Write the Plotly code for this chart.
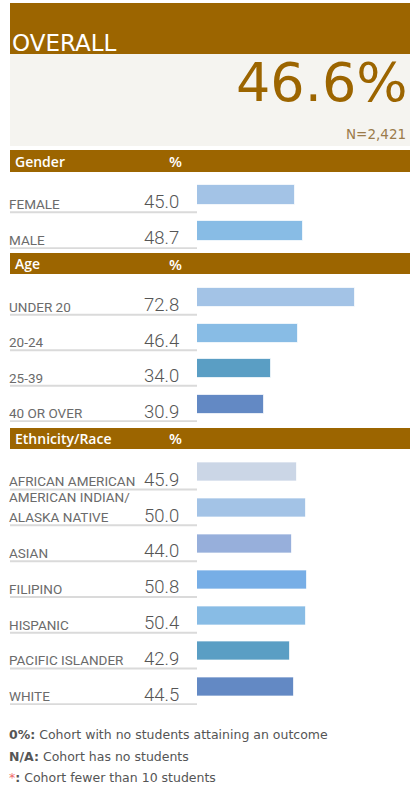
import plotly.graph_objects as go

# ---------------- data ----------------
overall_title = "OVERALL"
overall_value = "46.6%"
overall_n = "N=2,421"

gender_labels = ["FEMALE", "MALE"]
gender_values = [45.0, 48.7]
gender_colors = ["#a3c3e6", "#88bce5"]

age_labels = ["UNDER 20", "20-24", "25-39", "40 OR OVER"]
age_values = [72.8, 46.4, 34.0, 30.9]
age_colors = ["#a3c3e6", "#88bce5", "#5a9ec4", "#6389c4"]

eth_labels = ["AFRICAN AMERICAN", "AMERICAN INDIAN/<br>ALASKA NATIVE", "ASIAN",
              "FILIPINO", "HISPANIC", "PACIFIC ISLANDER", "WHITE"]
eth_values = [45.9, 50.0, 44.0, 50.8, 50.4, 42.9, 44.5]
eth_colors = ["#cbd6e6", "#a3c3e6", "#97afdb", "#77aee6", "#88bce5", "#5a9ec4", "#6389c4"]

section_titles = ["Gender", "Age", "Ethnicity/Race"]
footer_keys = ["0%:", "N/A:", "*:"]
footer_texts = ["Cohort with no students attaining an outcome",
                "Cohort has no students",
                "Cohort fewer than 10 students"]

# ---------------- layout helpers ----------------
W, H = 415, 787
BROWN = "#9c6500"
LABEL_FONT = "Roboto, Liberation Sans, sans-serif"


def px(x):
    return x / W


def py(y):
    return 1 - y / H


sections = [
    # title, labels, values, colors, band top, band bottom, rows top, rows bottom
    (section_titles[0], gender_labels, gender_values, gender_colors, 150, 172, 177, 249),
    (section_titles[1], age_labels, age_values, age_colors, 253, 274, 280, 422),
    (section_titles[2], eth_labels, eth_values, eth_colors, 428, 449, 454.5, 705),
]

fig = go.Figure()
shapes = []
annotations = []

# Overall header
shapes.append(dict(type="rect", xref="paper", yref="paper", x0=px(10), x1=px(410),
                   y0=py(54), y1=py(3), fillcolor=BROWN, line_width=0, layer="below"))
shapes.append(dict(type="rect", xref="paper", yref="paper", x0=px(10), x1=px(410),
                   y0=py(146), y1=py(54), fillcolor="#f5f4f0", line_width=0, layer="below"))
annotations.append(dict(text=overall_title, x=px(10), y=py(43), xref="paper", yref="paper",
                        xanchor="left", yanchor="middle", showarrow=False,
                        font=dict(family="DejaVu Sans", size=23, color="white")))
annotations.append(dict(text=overall_value, x=px(410), y=py(83), xref="paper", yref="paper",
                        xanchor="right", yanchor="middle", showarrow=False,
                        font=dict(family="DejaVu Sans", size=54, color=BROWN)))
annotations.append(dict(text=overall_n, x=px(408), y=py(134), xref="paper", yref="paper",
                        xanchor="right", yanchor="middle", showarrow=False,
                        font=dict(family="DejaVu Sans", size=13.5, color="#9b7b4a")))

layout_axes = {}
for i, (title, labels, values, colors, bt, bb, rt, rb) in enumerate(sections):
    n = len(labels)
    xa = "x" if i == 0 else f"x{i+1}"
    ya = "y" if i == 0 else f"y{i+1}"
    fig.add_trace(go.Bar(
        x=values, y=labels, orientation="h", xaxis=xa, yaxis=ya,
        marker=dict(color=colors, line=dict(color="rgba(255,255,255,0.7)", width=1)),
        width=0.53, hoverinfo="x+y", showlegend=False,
    ))
    layout_axes["xaxis" if i == 0 else f"xaxis{i+1}"] = dict(
        domain=[px(197), px(414)], range=[0, 100], visible=False, anchor=ya, fixedrange=True)
    layout_axes["yaxis" if i == 0 else f"yaxis{i+1}"] = dict(
        domain=[py(rb), py(rt)], range=[n - 0.5, -0.5], type="category",
        categoryorder="array", categoryarray=labels, visible=False, anchor=xa, fixedrange=True)

    # section band
    shapes.append(dict(type="rect", xref="paper", yref="paper", x0=px(10), x1=px(410),
                       y0=py(bb), y1=py(bt), fillcolor=BROWN, line_width=0, layer="below"))
    annotations.append(dict(text=title, x=px(13), y=py((bt + bb) / 2), xref="paper", yref="paper",
                            xanchor="left", yanchor="middle", showarrow=False,
                            font=dict(family="Open Sans", size=14, color="white", weight=600)))
    annotations.append(dict(text="%", x=px(175), y=py((bt + bb) / 2), xref="paper", yref="paper",
                            xanchor="center", yanchor="middle", showarrow=False,
                            font=dict(family="Open Sans", size=15, color="white", weight=600)))

    for j, (lab, val) in enumerate(zip(labels, values)):
        parts = lab.split("<br>")
        shifts = [-9] if len(parts) == 1 else [11, -9]
        for part, ys in zip(parts, shifts):
            annotations.append(dict(text=part, x=px(7), y=lab, xref="paper", yref=ya,
                                    xanchor="left", yanchor="middle", showarrow=False,
                                    yshift=ys,
                                    font=dict(family=LABEL_FONT, size=13.5, color="#6b6b6b")))
        annotations.append(dict(text=f"{val:.1f}", x=px(181), y=lab, xref="paper", yref=ya,
                                xanchor="right", yanchor="middle", showarrow=False, yshift=-7.5,
                                font=dict(family=LABEL_FONT, size=18.5, color="#555555", weight=300)))
        shapes.append(dict(type="line", xref="paper", yref=ya, x0=px(10), x1=px(197),
                           y0=j + 0.48, y1=j + 0.48, line=dict(color="#dadada", width=2)))

# footer
foot_y = [734, 756, 777]
for key, txt, yy in zip(footer_keys, footer_texts, foot_y):
    if key.startswith("*"):
        keyhtml = "<span style='color:#f06a6a'>*</span><b>:</b>"
    else:
        keyhtml = f"<b>{key}</b>"
    annotations.append(dict(text=f"{keyhtml} {txt}", x=px(7), y=py(yy), xref="paper", yref="paper",
                            xanchor="left", yanchor="middle", showarrow=False,
                            font=dict(family="DejaVu Sans", size=12.5, color="#555555")))

fig.update_layout(
    width=W, height=H, margin=dict(l=0, r=0, t=0, b=0),
    paper_bgcolor="white", plot_bgcolor="rgba(0,0,0,0)",
    shapes=shapes, annotations=annotations, bargap=0,
    **layout_axes,
)

fig.write_html("out.html", config={"displayModeBar": False},
               post_script="document.body.style.margin='0';document.body.style.overflow='hidden';")
